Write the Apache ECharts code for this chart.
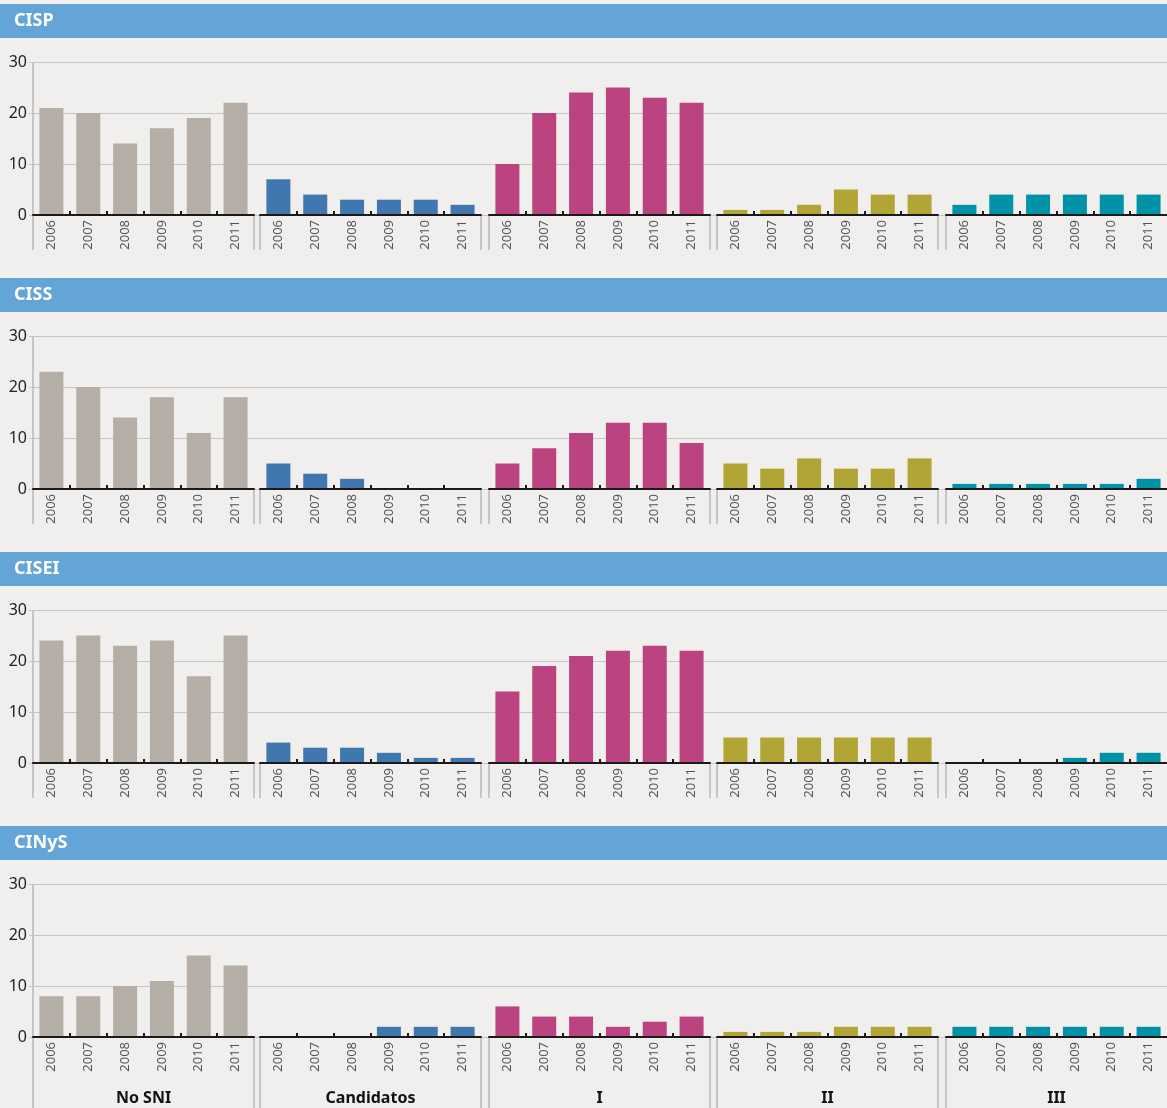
<!DOCTYPE html>
<html>
<head>
<meta charset="utf-8">
<script src="https://cdn.jsdelivr.net/npm/echarts@6/dist/echarts.min.js"></script>
<style>
html,body{margin:0;padding:0;background:#f0efed;}
#chart{width:1167px;height:1108px;}
</style>
</head>
<body>
<div id="chart"></div>
<script>
// ---- data ----
const panels = ['CISP', 'CISS', 'CISEI', 'CINyS'];
const groups = ['No SNI', 'Candidatos', 'I', 'II', 'III'];
const years = ['2006', '2007', '2008', '2009', '2010', '2011'];
const yTicks = [0, 10, 20, 30];

const cispNoSNI = [21, 20, 14, 17, 19, 22];
const cispCand = [7, 4, 3, 3, 3, 2];
const cispI = [10, 20, 24, 25, 23, 22];
const cispII = [1, 1, 2, 5, 4, 4];
const cispIII = [2, 4, 4, 4, 4, 4];

const cissNoSNI = [23, 20, 14, 18, 11, 18];
const cissCand = [5, 3, 2, 0, 0, 0];
const cissI = [5, 8, 11, 13, 13, 9];
const cissII = [5, 4, 6, 4, 4, 6];
const cissIII = [1, 1, 1, 1, 1, 2];

const ciseiNoSNI = [24, 25, 23, 24, 17, 25];
const ciseiCand = [4, 3, 3, 2, 1, 1];
const ciseiI = [14, 19, 21, 22, 23, 22];
const ciseiII = [5, 5, 5, 5, 5, 5];
const ciseiIII = [0, 0, 0, 1, 2, 2];

const cinysNoSNI = [8, 8, 10, 11, 16, 14];
const cinysCand = [0, 0, 0, 2, 2, 2];
const cinysI = [6, 4, 4, 2, 3, 4];
const cinysII = [1, 1, 1, 2, 2, 2];
const cinysIII = [2, 2, 2, 2, 2, 2];

const panelData = [
  [cispNoSNI, cispCand, cispI, cispII, cispIII],
  [cissNoSNI, cissCand, cissI, cissII, cissIII],
  [ciseiNoSNI, ciseiCand, ciseiI, ciseiII, ciseiIII],
  [cinysNoSNI, cinysCand, cinysI, cinysII, cinysIII]
];
const groupColors = ['#b4aea7', '#3f77ae', '#bb4480', '#b1a536', '#0093a8'];

// ---- layout ----
const FONT = 'Noto Sans';
const period = 274;
const headTop = 4, headH = 34;
const plotTop = 62, plotH = 153;
const gStarts = [33, 260, 489, 717, 946];
const gW = 221;
const lineColor = '#c6c6c6';

const grid = [], xAxis = [], yAxis = [], series = [], graphic = [];
let gi = 0;

panels.forEach(function (name, p) {
  const off = p * period;
  const top = plotTop + off;
  const zeroY = top + plotH;
  const bottomY = p === panels.length - 1 ? 1108 : zeroY + 35;

  // header band
  graphic.push({type: 'rect', shape: {x: 0, y: headTop + off, width: 1167, height: headH},
    style: {fill: '#62a5d6'}, z: 0});
  graphic.push({type: 'text', x: 14, y: headTop + off + headH / 2,
    style: {text: name, fill: '#ffffff', font: 'bold 18px "' + FONT + '"', verticalAlign: 'middle'}, z: 1});

  // background grid with y axis + split lines
  grid.push({left: 33, width: 1134, top: top, height: plotH, containLabel: false});
  xAxis.push({type: 'value', gridIndex: gi, show: false, min: 0, max: 1});
  yAxis.push({type: 'value', gridIndex: gi, min: yTicks[0], max: yTicks[yTicks.length - 1], interval: 10,
    axisLine: {show: false},
    axisTick: {show: true, length: 4, lineStyle: {color: lineColor}},
    axisLabel: {fontFamily: FONT, fontSize: 16, color: '#222', margin: 6},
    splitLine: {show: true, lineStyle: {color: lineColor, width: 1}}});
  gi++;

  // y axis vertical line
  graphic.push({type: 'line', shape: {x1: 33, y1: top, x2: 33, y2: bottomY},
    style: {stroke: lineColor, lineWidth: 2}, z: 1});

  groups.forEach(function (g, k) {
    const left = gStarts[k];
    // separators below axis
    if (k > 0) {
      graphic.push({type: 'line', shape: {x1: left, y1: zeroY, x2: left, y2: bottomY},
        style: {stroke: lineColor, lineWidth: 2}, z: 1});
    }
    if (k < groups.length - 1) {
      graphic.push({type: 'line', shape: {x1: left + gW, y1: zeroY, x2: left + gW, y2: bottomY},
        style: {stroke: lineColor, lineWidth: 2}, z: 1});
    }
    // bar grid
    grid.push({left: left, width: gW, top: top, height: plotH});
    xAxis.push({type: 'category', gridIndex: gi, data: years,
      axisLine: {show: true, lineStyle: {color: '#1a1a1a', width: 2}},
      axisTick: {show: false},
      axisLabel: {rotate: 90, fontFamily: FONT, fontSize: 13, color: '#555', margin: 5},
      z: 5});
    yAxis.push({type: 'value', gridIndex: gi, min: 0, max: 30, interval: 10, show: false});
    series.push({type: 'bar', xAxisIndex: gi, yAxisIndex: gi, data: panelData[p][k],
      barWidth: 24, itemStyle: {color: groupColors[k]}, silent: true, animation: false});
    gi++;

    // inner tick grid (ticks between bars only)
    const cw = gW / years.length;
    grid.push({left: left + cw, width: cw * (years.length - 2), top: top, height: plotH});
    xAxis.push({type: 'value', gridIndex: gi, min: 1, max: years.length - 1, interval: 1,
      axisLine: {show: false}, axisLabel: {show: false}, splitLine: {show: false},
      axisTick: {show: true, inside: true, length: 4, lineStyle: {color: '#1a1a1a', width: 2}}});
    yAxis.push({type: 'value', gridIndex: gi, min: 0, max: 30, show: false});
    gi++;

    // group labels at bottom
    if (p === panels.length - 1) {
      graphic.push({type: 'text', x: left + gW / 2, y: 1098,
        style: {text: g, fill: '#111', font: 'bold 16px "' + FONT + '"',
          align: 'center', verticalAlign: 'middle'}, z: 2});
    }
  });
});

const chart = echarts.init(document.getElementById('chart'), null, {renderer: 'canvas'});
chart.setOption({
  backgroundColor: '#f0efed',
  animation: false,
  grid: grid,
  xAxis: xAxis,
  yAxis: yAxis,
  series: series,
  graphic: graphic
});
</script>
</body>
</html>
